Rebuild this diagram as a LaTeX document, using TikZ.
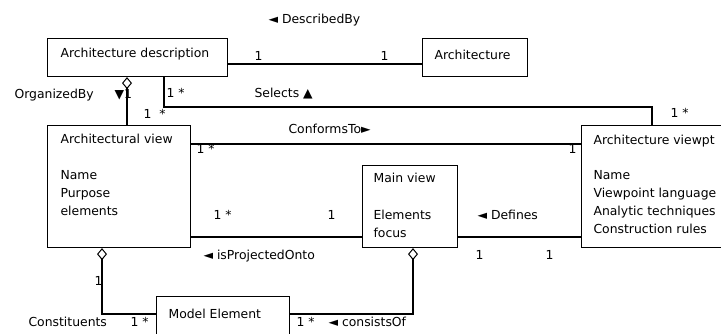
\documentclass[tikz,border=0pt]{standalone}
\usepackage{fontspec}
\setmainfont{DejaVu Sans}
\usetikzlibrary{arrows.meta}

\begin{document}
\begin{tikzpicture}[x=1pt,y=-1pt,line width=1.1pt,font=\fontsize{12.4}{18}\selectfont,
    box/.style={draw,anchor=north west,inner sep=0pt},
    agg/.style={{Diamond[open,length=12pt,width=10pt,line width=1pt]}-}]
  \useasboundingbox (0,0) rectangle (721,333);

  \node[box,minimum width=180pt,minimum height=38pt] (ad) at (47,38) {};
  \node[box,minimum width=105pt,minimum height=38pt] (arch) at (422,38) {};
  \node[box,minimum width=143pt,minimum height=122pt] (av) at (47,125) {};
  \node[box,minimum width=142pt,minimum height=122pt] (vp) at (581,125) {};
  \node[box,minimum width=95pt,minimum height=82pt] (mv) at (362,165) {};
  \node[box,minimum width=133pt,minimum height=45pt] (me) at (156,296) {};

  \begin{scope}[anchor=base west,inner sep=0pt,align=left]
    \node (adt) at (60,57) {Architecture description};
    \node (archt) at (434,59) {Architecture};
    \node (avt) at (60,215) {Architectural view\\[18pt]Name\\Purpose\\elements};
    \node (vpt) at (593,233) {Architecture viewpt\\[17pt]Name\\Viewpoint language\\Analytic techniques\\Construction rules};
    \node (mvt) at (373,237) {Main view\\[19pt]Elements\\focus};
    \node (met) at (168,318) {Model Element};
  \end{scope}

  \begin{scope}[anchor=base west,inner sep=0pt]
    \node (described) at (268,23) {◄ DescribedBy};
    \node (ad1) at (254,60) {1};
    \node (arch1) at (380,60) {1};
    \node (organized) at (14,98) {OrganizedBy};
    \node (org1) at (114,98) {▼1};
    \node (sel1) at (166,97) {1 *};
    \node (sel2) at (143,118) {1 \ *};
    \node (selects) at (254,97) {Selects ▲};
    \node (sel3) at (670,117) {1 *};
    \node (conf1) at (196,153) {1 *};
    \node (conforms) at (288,133) {ConformsTo►};
    \node (conf2) at (568,153) {1};
    \node (proj1) at (213,219) {1 *};
    \node (proj2) at (327,219) {1};
    \node (projected) at (203,259) {◄ isProjectedOnto};
    \node (defines) at (477,219) {◄ Defines};
    \node (def1) at (475,259) {1};
    \node (def2) at (545,259) {1};
    \node (cons1) at (94,285) {1};
    \node (constituents) at (28,326) {Constituents};
    \node (cons2) at (130,326) {1 *};
    \node (cof1) at (296,326) {1 *};
    \node (consists) at (328,326) {◄ consistsOf};
  \end{scope}

  \draw (ad.east |- 0,64) -- (arch.west |- 0,64);
  \draw[agg] (ad.south -| 127,0) -- (av.north -| 127,0);
  \draw (ad.south -| 164,0) |- (652,107) -- (vp.north -| 652,0);
  \draw (av.east |- 0,144) -- (vp.west |- 0,144);
  \draw (av.east |- 0,237) -- (mv.west |- 0,237);
  \draw (mv.east |- 0,237) -- (vp.west |- 0,237);
  \draw[agg] (av.south -| 102,0) |- (me.west |- 0,314);
  \draw[agg] (mv.south -| 413,0) |- (me.east |- 0,314);
\end{tikzpicture}
\end{document}
